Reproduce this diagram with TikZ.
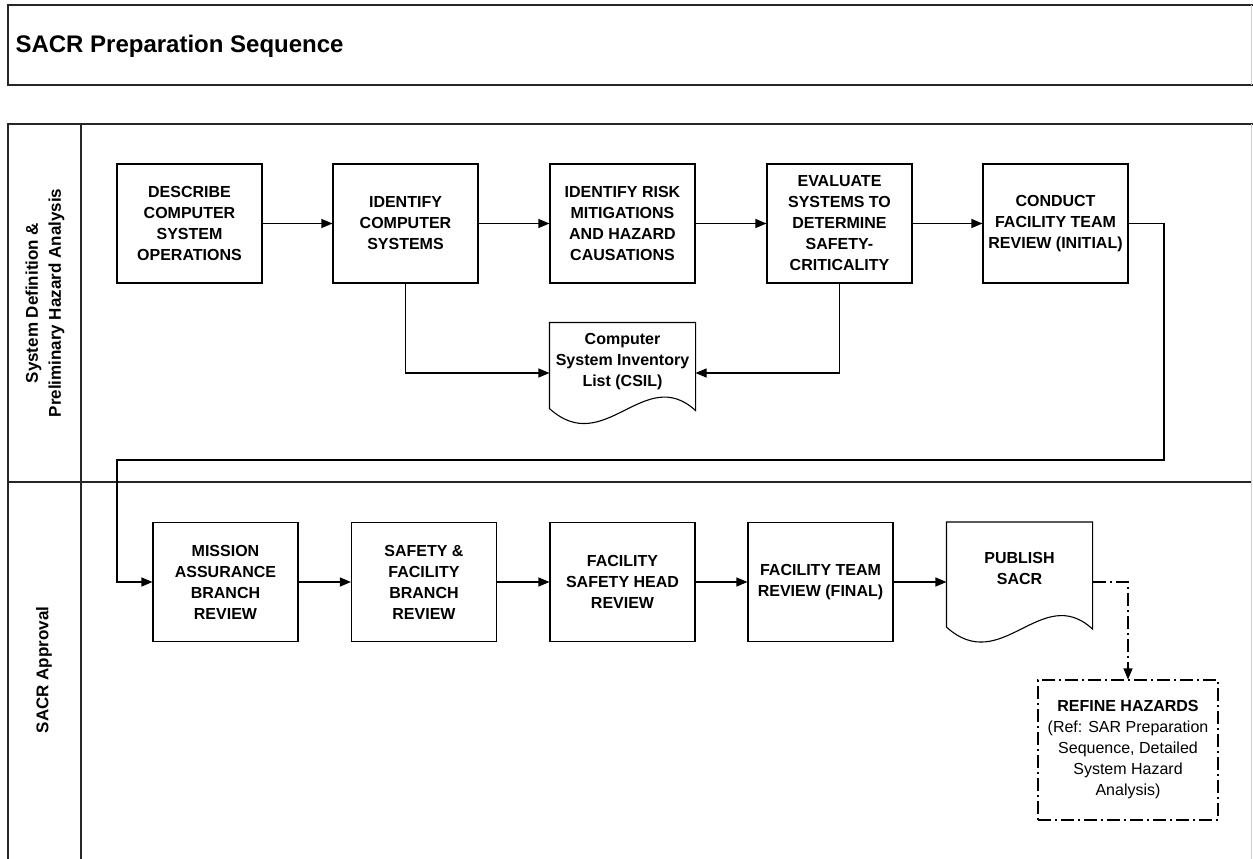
\documentclass[tikz,border=0pt]{standalone}
\usepackage{fontspec}
\setmainfont{Liberation Sans}
\usetikzlibrary{arrows.meta,calc}

\newcommand{\boxfont}{\fontsize{16}{21}\selectfont\bfseries}
\newcommand{\lanefont}{\fontsize{17}{23}\selectfont\bfseries}
% wavy document outline round a docbox node
\newcommand{\docoutline}[1]{\draw[line width=1.1pt] (#1.north west) -- ($(#1.south west)+(0,-15)$) .. controls ($(#1.south west)+(55,35)$) and ($(#1.south west)+(95,-60)$) .. ($(#1.south east)+(0,-13)$) -- (#1.north east) -- cycle;}

\tikzset{
  stepbox/.style={draw, line width=1.1pt, minimum width=145pt, minimum height=119pt, inner sep=0pt, align=center, font=\boxfont},
  docbox/.style={stepbox, draw=none},
  flow/.style={line width=1.1pt, -{Triangle[length=11pt,width=9pt]}},
  dashflow/.style={flow, dash pattern=on 13pt off 4pt on 2pt off 4pt},
  frame/.style={line width=1.3pt, black!85},
  faint/.style={line width=0.8pt, black!20},
  lane/.style={rotate=90, align=center, font=\lanefont}
}

\begin{document}
\begin{tikzpicture}[x=1pt,y=-1pt]
\useasboundingbox (0,0) rectangle (1253,859);
% frame and swimlanes
\draw[frame] (1253,5) -- (8,5) -- (8,85) -- (1253,85);
\draw[faint] (1251,5) -- (1251,85);
\draw[frame] (1253,124) -- (8,124) -- (8,859);
\draw[frame] (81,124) -- (81,859);
\draw[frame] (8,482) -- (1251,482);
\draw[faint] (1251,124) -- (1251,859);
\node[anchor=base west, font=\fontsize{24}{28}\selectfont\bfseries] (title) at (12,53) {SACR Preparation Sequence};
\node[lane] (laneone) at (45,303) {System Definition \&\\Preliminary Hazard Analysis};
\node[lane] (lanetwo) at (44,670) {SACR Approval};

% first lane
\node[stepbox] (describe) at (189.5,223.5) {DESCRIBE\\COMPUTER\\SYSTEM\\OPERATIONS};
\node[stepbox] (identify) at (405.5,223.5) {IDENTIFY\\COMPUTER\\SYSTEMS};
\node[stepbox] (mitigate) at (622.5,223.5) {IDENTIFY RISK\\MITIGATIONS\\AND HAZARD\\CAUSATIONS};
\node[stepbox] (evaluate) at (839.5,223.5) {EVALUATE\\SYSTEMS TO\\DETERMINE\\SAFETY-\\CRITICALITY};
\node[stepbox] (conduct) at (1055.5,223.5) {CONDUCT\\FACILITY TEAM\\REVIEW (INITIAL)};
\node[docbox, minimum height=100pt] (csil) at (622.5,373) {Computer\\System Inventory\\List (CSIL)\\[5pt]~};
\docoutline{csil}

\draw[flow] (describe) -- (identify);
\draw[flow] (identify) -- (mitigate);
\draw[flow] (mitigate) -- (evaluate);
\draw[flow] (evaluate) -- (conduct);
\draw[flow] (identify.south) |- (csil.west);
\draw[flow] (evaluate.south) |- (csil.east);

% second lane
\node[stepbox] (mission) at (225.5,582) {MISSION\\ASSURANCE\\BRANCH\\REVIEW};
\node[stepbox] (branch) at (424,582) {SAFETY \&\\FACILITY\\BRANCH\\REVIEW};
\node[stepbox] (head) at (622.5,582) {FACILITY\\SAFETY HEAD\\REVIEW};
\node[stepbox] (final) at (820.5,582) {FACILITY TEAM\\REVIEW (FINAL)};
\node[docbox] (publish) at (1019.5,582) {PUBLISH\\SACR\\[7pt]~};
\docoutline{publish}
\node[draw, dash pattern=on 13pt off 4pt on 2pt off 4pt, line width=1.1pt, minimum width=180pt, minimum height=140pt, inner sep=0pt, align=center, font=\fontsize{16}{21}\selectfont] (refine) at (1128,750) {{\bfseries REFINE HAZARDS}\\(Ref: SAR Preparation\\Sequence, Detailed\\System Hazard\\Analysis)};

\coordinate (loopR) at (1164,460);
\coordinate (loopL) at (117,460);
\draw[flow] (conduct.east) -| (loopR) -- (loopL) |- (mission.west);
\draw[flow] (mission) -- (branch);
\draw[flow] (branch) -- (head);
\draw[flow] (head) -- (final);
\draw[flow] (final) -- (publish);
\draw[dashflow] (publish.east) -| (refine.north);
\end{tikzpicture}
\end{document}
